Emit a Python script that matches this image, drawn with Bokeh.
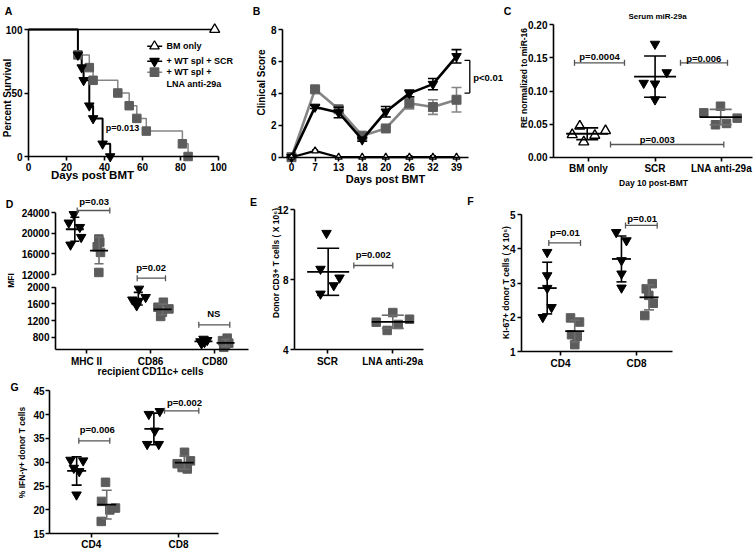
import numpy as np
from bokeh.plotting import figure
from bokeh.models import Range1d, Label, FixedTicker, NumeralTickFormatter
from bokeh.layouts import column, row
from bokeh.embed import file_html
from bokeh.resources import INLINE

FONT = "Liberation Sans"
GRAY = "#5c5c5c"
LGRAY = "#858585"

# ---------------- data ----------------
# A: Kaplan-Meier survival
a_bm_days = [0, 98]
a_bm_surv = [100, 100]
a_scr_days = [0, 26, 28, 29, 32, 34, 39, 43]
a_scr_surv = [100, 80, 70, 60, 40, 30, 10, 0]
a_lna_days = [0, 26, 32, 34, 47, 53, 57, 62, 81, 84]
a_lna_surv = [100, 80, 70, 60, 50, 40, 30, 20, 10, 0]
a_xticks = [0, 20, 40, 60, 80, 100]
a_yticks = [0, 50, 100]

# B: clinical score
b_days = ["0", "7", "13", "18", "20", "26", "32", "39"]
b_bm_mean = [0, 0.4, 0, 0, 0, 0, 0, 0]
b_bm_err = [0, 0.05, 0, 0, 0, 0.08, 0.08, 0]
b_scr_mean = [0, 3.15, 2.8, 1.1, 2.85, 4.0, 4.58, 6.32]
b_scr_err = [0, 0.1, 0.33, 0.1, 0.33, 0.21, 0.35, 0.42]
b_lna_mean = [0, 4.25, 3.0, 1.35, 1.8, 3.38, 3.14, 3.6]
b_lna_err = [0, 0.1, 0.15, 0.1, 0.1, 0.35, 0.46, 0.77]
b_yticks = [0, 2, 4, 6, 8]

# C: serum miR-29a
c_groups = ["BM only", "SCR", "LNA anti-29a"]
c_bm = [0.034, 0.047, 0.023, 0.033, 0.040]
c_bm_jit = [-0.245, -0.131, -0.071, 0.095, 0.256]
c_scr = [0.171, 0.128, 0.112, 0.111, 0.087]
c_scr_jit = [0.0, 0.176, -0.17, 0.0, 0.0]
c_lna = [0.067, 0.077, 0.049, 0.051, 0.059]
c_lna_jit = [-0.266, -0.015, -0.09, 0.075, 0.236]
c_yticks = [0, 0.05, 0.10, 0.15, 0.20]

# D: MFI on recipient CD11c+ cells (broken y axis)
d_markers = ["MHC II", "CD86", "CD80"]
d_scr = [[23700, 22060, 21200, 19260, 17780],
         [1960, 1760, 1700, 1640, 1560],
         [760, 730, 700, 680, 650]]
d_scr_jit = [[-0.198, -0.276, -0.104, -0.083, -0.249],
             [-0.182, -0.078, -0.285, -0.198, -0.218],
             [-0.176, -0.118, -0.223, -0.161, -0.207]]
d_lna = [[18900, 18300, 17400, 16300, 12400],
         [1640, 1520, 1480, 1400, 1300],
         [780, 720, 660, 620, 560]]
d_lna_jit = [[0.192, 0.207, 0.167, 0.218, 0.192],
             [0.198, 0.114, 0.285, 0.182, 0.156],
             [0.193, 0.12, 0.218, 0.167, 0.14]]
d_yticks = [800, 1200, 1600, 2000, 12000, 16000, 20000, 24000]

# E: donor CD3+ T cells
e_groups = ["SCR", "LNA anti-29a"]
e_scr = [10.65, 8.6, 8.1, 7.66, 7.18]
e_scr_jit = [-0.015, -0.107, 0.184, 0.096, -0.107]
e_lna = [6.11, 5.56, 5.73, 5.43, 5.09]
e_lna_jit = [0.0, -0.254, 0.256, 0.083, -0.086]
e_yticks = [4, 8, 12]

# F: Ki-67+ donor T cells
f_groups = ["CD4", "CD8"]
f_scr = [[3.90, 3.22, 2.85, 2.29, 2.0], [4.48, 4.24, 3.66, 3.27, 2.86]]
f_scr_jit = [[-0.175, -0.175, -0.175, -0.118, -0.233], [-0.267, -0.132, -0.197, -0.197, -0.197]]
f_lna = [[1.98, 1.86, 1.49, 1.44, 1.2], [2.98, 2.83, 2.64, 2.41, 2.05]]
f_lna_jit = [[0.132, 0.25, 0.145, 0.22, 0.188], [0.207, 0.128, 0.162, 0.22, 0.109]]
f_yticks = [1, 2, 3, 4, 5]

# G: IFN-gamma+ donor T cells
g_groups = ["CD4", "CD8"]
g_scr = [[30.49, 30.35, 28.8, 28.1, 23.2], [40.1, 40.7, 36.6, 33.8, 33.8]]
g_scr_jit = [[-0.237, -0.092, -0.199, -0.137, -0.168], [-0.340, -0.214, -0.271, -0.359, -0.226]]
g_lna = [[25.8, 21.8, 20.4, 20.0, 17.6], [32.1, 30.3, 29.7, 28.9, 28.6]]
g_lna_jit = [[0.164, 0.118, 0.278, 0.213, 0.115], [0.069, 0.137, -0.015, 0.042, 0.1]]
g_yticks = [15, 20, 25, 30, 35, 40, 45]


# ---------------- layout helpers ----------------
def PX(x):
    return int(round(x))


def PY(y):
    return int(round(y))


class Panel:
    """A figure whose frame covers its whole box; axes are placed inside it."""

    def __init__(self, box, xmap, ymap):
        bl, bt, br, bb = PX(box[0]), PY(box[1]), PX(box[2]), PY(box[3])
        xv0, xr0, xv1, xr1 = xmap
        yv0, yr0, yv1, yr1 = ymap
        self.kx = (xr1 - xr0) / (xv1 - xv0)
        self.ky = (yr0 - yr1) / (yv1 - yv0)
        self.xv0, self.xr0, self.yv0, self.yr0 = xv0, xr0, yv0, yr0
        p = figure(width=br - bl, height=bb - bt,
                   x_range=Range1d(self.X(bl), self.X(br)),
                   y_range=Range1d(self.Y(bb), self.Y(bt)),
                   output_backend="svg", toolbar_location=None,
                   min_border_left=0, min_border_right=0,
                   min_border_top=0, min_border_bottom=0)
        p.outline_line_color = None
        p.xgrid.visible = False
        p.ygrid.visible = False
        p.background_fill_color = "white"
        p.border_fill_color = "white"
        self.p = p

    def X(self, xr):
        return self.xv0 + (xr - self.xr0) / self.kx

    def Y(self, yr):
        return self.yv0 + (self.yr0 - yr) / self.ky

    def text(self, s, xr, yr, size, angle=0, align="center", style="bold"):
        self.p.add_layout(Label(x=self.X(xr), y=self.Y(yr), text=s, text_font=FONT,
                                text_font_size=f"{size}px", text_font_style=style,
                                text_align=align, text_baseline="middle",
                                angle=angle, angle_units="deg", text_color="black"))

    def axes(self, xticks, yticks, xfix, yfix, xbounds, ybounds,
             xover=None, yover=None, yfmt=None, standoff=2):
        p = self.p
        xa, ya = p.xaxis[0], p.yaxis[0]
        for ax in (xa, ya):
            ax.axis_line_width = 1.6
            ax.axis_line_color = "black"
            ax.major_tick_line_width = 1.6
            ax.major_tick_line_color = "black"
            ax.major_tick_out = 4
            ax.major_tick_in = 0
            ax.minor_tick_line_color = None
            ax.major_label_text_font = FONT
            ax.major_label_text_font_style = "bold"
            ax.major_label_text_font_size = "10px"
            ax.major_label_text_color = "black"
            ax.major_label_standoff = standoff
        xa.ticker = FixedTicker(ticks=list(xticks))
        ya.ticker = FixedTicker(ticks=list(yticks))
        xa.fixed_location = xfix
        ya.fixed_location = yfix
        xa.bounds = xbounds
        if ybounds is not None:
            ya.bounds = ybounds
        if xover:
            xa.major_label_overrides = xover
        if yover:
            ya.major_label_overrides = yover
        if yfmt:
            ya.formatter = yfmt

    def bracket(self, xr0, xr1, yv, color="#555555"):
        x0, x1 = self.X(xr0), self.X(xr1)
        self.p.segment([x0], [yv], [x1], [yv], line_color=color, line_width=1.3)
        self.p.scatter([x0, x1], [yv, yv], marker="dash", angle=np.pi / 2, size=6,
                       line_color=color, line_width=1.3)

    def dots(self, cat, vals, jit, kind, mean_w, cap_w, tf=None, open_marker=False):
        p = self.p
        if tf is None:
            tf = lambda v: np.asarray(v, float)
        vals = np.asarray(vals, float)
        jit = np.asarray(jit, float)
        xs = cat + jit
        xc = cat + jit.mean()
        m = vals.mean()
        sd = vals.std(ddof=1)
        if kind == "tri":
            if open_marker:
                p.scatter(xs, tf(vals), marker="triangle", size=10,
                          fill_color="white", line_color="black", line_width=1.4)
            else:
                p.scatter(xs, tf(vals), marker="inverted_triangle", size=9.5,
                          fill_color="black", line_color="black")
            ec = "black"
        else:
            p.scatter(xs, tf(vals), marker="square", size=8.5,
                      fill_color=GRAY, line_color=GRAY)
            ec = "#6e6e6e"
        lo, hi = tf([m - sd, m + sd])
        p.segment([xc], [lo], [xc], [hi], line_color=ec, line_width=1.6)
        p.scatter([xc, xc], [lo, hi], marker="dash", size=cap_w, line_color=ec, line_width=1.6)
        p.scatter([xc], tf([m]), marker="dash", size=mean_w, line_color="black", line_width=1.8)


# ---------------- A ----------------
A = Panel((0, 0, 250, 188), (0, 28, 100, 218), (0, 156, 100, 29))
pa = A.p
pa.step(a_lna_days, a_lna_surv, mode="after", line_color=LGRAY, line_width=1.5)
pa.step(a_scr_days, a_scr_surv, mode="after", line_color="black", line_width=2)
pa.line(a_bm_days, a_bm_surv, line_color="black", line_width=1.5)
pa.scatter(a_lna_days[1:], a_lna_surv[1:], marker="square", size=8.5, fill_color=GRAY, line_color=GRAY)
pa.scatter(a_scr_days[1:], a_scr_surv[1:], marker="inverted_triangle", size=9.5,
           fill_color="black", line_color="black")
pa.scatter(a_bm_days[-1:], a_bm_surv[-1:], marker="triangle", size=10, fill_color="white",
           line_color="black", line_width=1.4)
A.axes(a_xticks, a_yticks, 0, 0, (0, 100), (0, 100))
leg_y = [45.7, 60.7, 71.7]
for i, (mk, fc, lc) in enumerate([("triangle", "white", "black"),
                                    ("inverted_triangle", "black", "black"),
                                    ("square", GRAY, LGRAY)]):
    y = A.Y(leg_y[i])
    pa.segment([A.X(146.7)], [y], [A.X(161.7)], [y], line_color=lc, line_width=1.6)
    pa.scatter([A.X(154)], [y], marker=mk, size=9.5 if mk != "square" else 8.5,
               fill_color=fc, line_color="black" if mk != "square" else GRAY, line_width=1.3)
A.text("BM only", 166, 45.7, 9, align="left")
A.text("+ WT spl + SCR", 166, 60.7, 9, align="left")
A.text("+ WT spl +", 166, 71.7, 9, align="left")
A.text("LNA anti-29a", 166, 83.5, 9, align="left")
A.text("p=0.013", 122, 127, 9)
A.text("A", 8, 10, 10.5)
A.text("Percent Survival", 7, 97.5, 10, angle=90)
A.text("Days post BMT", 92, 174, 11.5)

# ---------------- B ----------------
B = Panel((250, 0, 503, 188), (0, 291, 7, 456), (0, 156.7, 8, 29))
pb = B.p
idx = np.arange(len(b_days))


def err_series(pn, means, errs, color, cap=10):
    m = np.asarray(means, float)
    e = np.asarray(errs, float)
    pn.p.segment(idx, m - e, idx, m + e, line_color=color, line_width=1.6)
    pn.p.scatter(np.concatenate([idx, idx]), np.concatenate([m - e, m + e]), marker="dash",
                 size=cap, line_color=color, line_width=1.6)


pb.line(idx, b_lna_mean, line_color=LGRAY, line_width=2.6)
err_series(B, b_lna_mean, b_lna_err, LGRAY)
pb.scatter(idx, b_lna_mean, marker="square", size=9, fill_color=GRAY, line_color=GRAY)
pb.line(idx, b_scr_mean, line_color="black", line_width=2.6)
err_series(B, b_scr_mean, b_scr_err, "black")
pb.scatter(idx, b_scr_mean, marker="inverted_triangle", size=9.5, fill_color="black", line_color="black")
pb.line(idx, b_bm_mean, line_color="black", line_width=2.2)
err_series(B, b_bm_mean, b_bm_err, "black", cap=6)
pb.scatter(idx, b_bm_mean, marker="triangle", size=7, fill_color="white", line_color="black", line_width=1.3)
B.axes(list(idx), b_yticks, 0, B.X(282), (B.X(282), B.X(468)), (0, 8),
       xover={int(i): d for i, d in zip(idx, b_days)})
xb = B.X(469.3)
pb.segment([xb], [4.02], [xb], [6.07], line_color="black", line_width=1.3)
pb.segment([xb, xb], [4.02, 6.07], [B.X(464), B.X(464)], [4.02, 6.07], line_color="black", line_width=1.3)
B.text("p<0.01", 472.7, 76.7, 9.5, align="left")
B.text("B", 256, 10, 10.5)
B.text("Clinical Score", 261, 82, 10, angle=90)
B.text("Days post BMT", 385, 178, 11)

# ---------------- C ----------------
C = Panel((503, 0, 754, 188), (0, 588, 2, 721), (0, 156.7, 0.2, 24.3))
C.dots(0, c_bm, c_bm_jit, "tri", 42, 22, open_marker=True)
C.dots(1, c_scr, c_scr_jit, "tri", 42, 22)
C.dots(2, c_lna, c_lna_jit, "sq", 42, 22)
C.axes([0, 1, 2], c_yticks, 0, C.X(553), (C.X(553), C.X(752)), (0, 0.2),
       xover={i: g for i, g in enumerate(c_groups)}, yfmt=NumeralTickFormatter(format="0.00"))
C.bracket(574, 624, 0.1426)
C.bracket(680, 727, 0.1426)
C.bracket(610, 723.3, 0.0192)
C.text("p=0.0004", 599, 56.3, 9.5)
C.text("p=0.006", 703.3, 57.5, 9.5)
C.text("p=0.003", 656.7, 138.7, 9.5)
C.text("C", 507, 10, 10.5)
C.text("Serum miR-29a", 657, 15.7, 8)
C.text("RE normalized to miR-16", 523, 77.5, 8.5, angle=90)
C.text("Day 10 post-BMT", 653, 182, 8.5)

# ---------------- D (broken y axis) ----------------


def d_tf(v):
    v = np.asarray(v, float)
    return np.where(v >= 7000, 75 + (v - 12000) / 194.5, 62.3 - (2000 - v) / 23.95)


D = Panel((0, 188, 249, 377), (0, 86, 2, 214.3), (0, 349, 136.7, 212.3))
for i in range(3):
    D.dots(i, d_scr[i], d_scr_jit[i], "tri", 18, 9, tf=d_tf)
    D.dots(i, d_lna[i], d_lna_jit[i], "sq", 18, 9, tf=d_tf)
d_tickpos = [float(t) for t in d_tf(d_yticks)]
ax_x = D.X(55)
D.axes([0, 1, 2], d_tickpos, 0, ax_x, (ax_x, D.X(248)), None,
       xover={i: g for i, g in enumerate(d_markers)},
       yover={t: str(v) for t, v in zip(d_tickpos, d_yticks)})
D.p.yaxis[0].axis_line_color = None
D.p.segment([ax_x, ax_x], [0, float(d_tf(12000))], [ax_x, ax_x],
            [float(d_tf(2000)), float(d_tf(24000))], line_color="black", line_width=1.6)
D.bracket(76.7, 109.3, float(d_tf(24448)))
D.bracket(136.7, 165, float(62.3 + (2215 - 2000) / 23.95))
D.bracket(198.3, 229.3, float(d_tf(1100)))
D.text("p=0.03", 93.7, 201, 9.5)
D.text("p=0.02", 150.7, 266.7, 9.5)
D.text("NS", 213.3, 313.3, 9.5)
D.text("D", 9, 203, 10.5)
D.text("MFI", 10, 280, 8.5, angle=90)
D.text("recipient CD11c+ cells", 150, 371, 10)

# ---------------- E ----------------
E = Panel((249, 188, 466, 377), (0, 327, 1, 392.3), (4, 349, 12, 209))
E.dots(0, e_scr, e_scr_jit, "tri", 42, 22)
E.dots(1, e_lna, e_lna_jit, "sq", 42, 22)
E.axes([0, 1], e_yticks, 4, E.X(294), (E.X(294), E.X(423)), (4, 12),
       xover={i: g for i, g in enumerate(e_groups)})
E.bracket(353.3, 392.3, 8.8)
E.text("p=0.002", 372.7, 254.3, 9.5)
E.text("E", 253, 201, 10.5)
E.text("Donor CD3+ T cells ( X 10\u2076)", 275, 262.5, 8.5, angle=90)

# ---------------- F ----------------
F = Panel((466, 188, 754, 377), (0, 560, 1, 636), (1, 351, 5, 214))
for i in range(2):
    F.dots(i, f_scr[i], f_scr_jit[i], "tri", 19, 10)
    F.dots(i, f_lna[i], f_lna_jit[i], "sq", 19, 10)
F.axes([0, 1], f_yticks, 1, F.X(521), (F.X(521), F.X(672)), (1, 5),
       xover={i: g for i, g in enumerate(f_groups)})
F.bracket(548.3, 580, 4.17)
F.bracket(625, 656.7, 4.68)
F.text("p=0.01", 564.3, 231.7, 9.5)
F.text("p=0.01", 641.7, 218.3, 9.5)
F.text("F", 470, 200, 10.5)
F.text("KI-67+ donor T cells ( X 10\u2076)", 505, 282, 8.5, angle=90)

# ---------------- G ----------------
G = Panel((0, 377, 300, 549), (0, 90.7, 1, 178), (15, 533.3, 45, 390.3))
for i in range(2):
    G.dots(i, g_scr[i], g_scr_jit[i], "tri", 19, 10)
    G.dots(i, g_lna[i], g_lna_jit[i], "sq", 19, 10)
G.axes([0, 1], g_yticks, 15, G.X(49), (G.X(49), G.X(218)), (15, 45),
       xover={i: g for i, g in enumerate(g_groups)}, standoff=1)
G.bracket(78.3, 109.3, 34.5)
G.bracket(164, 198.3, 40.8)
G.text("p=0.006", 96.7, 429.3, 9.5)
G.text("p=0.002", 184, 401.7, 9.5)
G.text("G", 14, 386, 10.5)
G.text("% IFN-\u03b3+ donor T cells", 21, 452, 8.5, angle=90)

layout = column(row(A.p, B.p, C.p), row(D.p, E.p, F.p), row(G.p))
open("out.html", "w").write(file_html(layout, INLINE))
